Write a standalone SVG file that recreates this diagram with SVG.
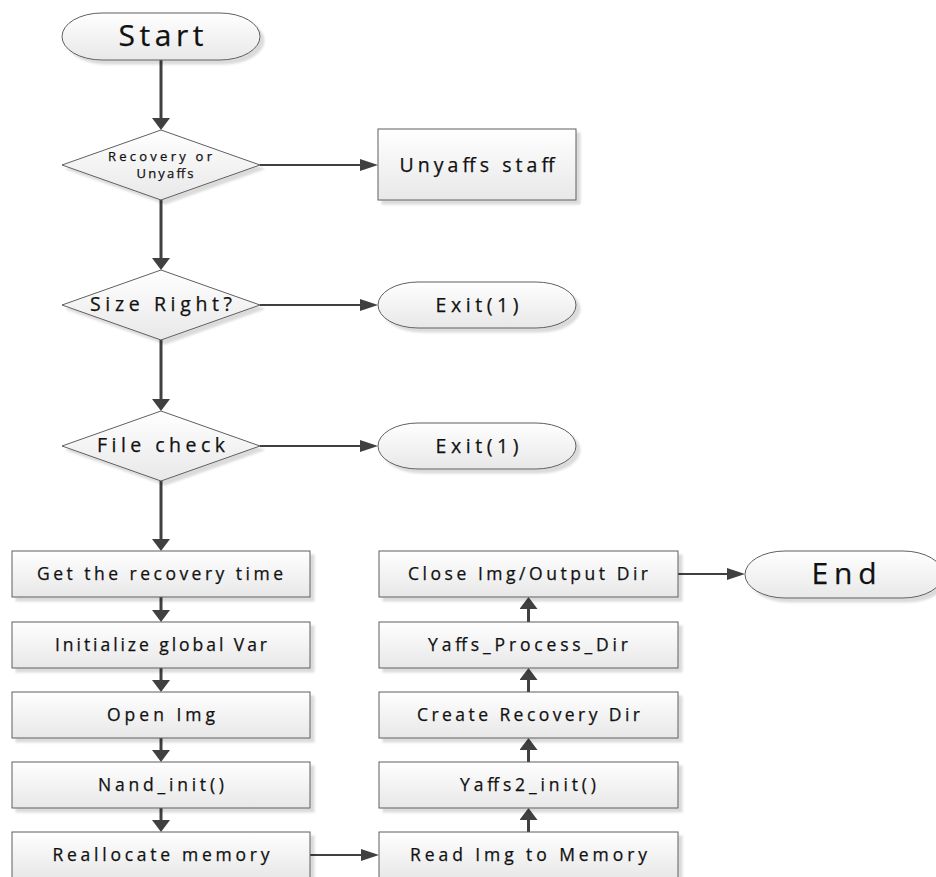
<svg xmlns="http://www.w3.org/2000/svg" width="936" height="877" viewBox="0 0 936 877">
  <defs>
    <linearGradient id="fillGrad" x1="0" y1="0" x2="0" y2="1">
      <stop offset="0" stop-color="#ffffff"/>
      <stop offset="1" stop-color="#e8e8e8"/>
    </linearGradient>
    <filter id="shadow" x="-10%" y="-10%" width="130%" height="140%">
      <feDropShadow dx="4" dy="4" stdDeviation="0.8" flood-color="#000" flood-opacity="0.14"/>
    </filter>
    <!-- heavy arrowhead for vertical flow lines -->
    <marker id="headV" markerUnits="userSpaceOnUse" markerWidth="12" markerHeight="18" refX="8" refY="9" orient="auto">
      <path d="M0,0 L12,9 L0,18 z" fill="#404040"/>
    </marker>
    <!-- slim arrowhead for horizontal branch lines -->
    <marker id="headH" markerUnits="userSpaceOnUse" markerWidth="18" markerHeight="12" refX="14" refY="6" orient="auto">
      <path d="M0,0 L18,6 L0,12 z" fill="#404040"/>
    </marker>
  </defs>
  <style>
    .shape { fill: url(#fillGrad); stroke: #5f5f5f; stroke-width: 1; filter: url(#shadow); }
    .lbl { font-family: "Open Sans", "Noto Sans", "DejaVu Sans", sans-serif; fill: #111; text-anchor: middle; stroke: #111; stroke-width: 0.25; }
    .big { font-size: 30px; }
    .mid { font-size: 19.5px; }
    .box { font-size: 17.5px; }
    .small { font-size: 13px; }
    .flow { fill: none; stroke: #404040; stroke-width: 3; marker-end: url(#headV); }
    .branch { fill: none; stroke: #404040; stroke-width: 1.8; marker-end: url(#headH); }
  </style>
  <rect width="936" height="877" fill="#ffffff"/>

  <g id="connectors">
    <path class="flow" d="M161,60 V126"/>
    <path class="branch" d="M260,165 H374"/>
    <path class="flow" d="M161,200 V266"/>
    <path class="branch" d="M260,305 H374"/>
    <path class="flow" d="M161,340 V407"/>
    <path class="branch" d="M260,446 H374"/>
    <path class="flow" d="M161,481 V547"/>
    <path class="flow" d="M161,597 V618"/>
    <path class="flow" d="M161,668 V688"/>
    <path class="flow" d="M161,738 V758"/>
    <path class="flow" d="M161,808 V828"/>
    <path class="branch" d="M310,855 H375"/>
    <path class="flow" d="M528.5,832 V812"/>
    <path class="flow" d="M528.5,762 V742"/>
    <path class="flow" d="M528.5,692 V672"/>
    <path class="flow" d="M528.5,622 V601"/>
    <path class="branch" d="M678,574 H741"/>
  </g>

  <g id="start">
    <rect class="shape" x="62" y="13" width="198" height="47" rx="40" ry="23.5"/>
    <text class="lbl big" x="161" y="46" textLength="85" lengthAdjust="spacing">Start</text>
  </g>

  <g id="decision-mode">
    <polygon class="shape" points="161,130 260,165 161,200 62,165"/>
    <text class="lbl small" x="160" y="160.5" textLength="104" lengthAdjust="spacing">Recovery or</text>
    <text class="lbl small" x="165" y="177.5" textLength="57" lengthAdjust="spacing">Unyaffs</text>
  </g>

  <g id="unyaffs-staff">
    <rect class="shape" x="378" y="129" width="198" height="71"/>
    <text class="lbl mid" x="477" y="172" textLength="155" lengthAdjust="spacing">Unyaffs staff</text>
  </g>

  <g id="decision-size">
    <polygon class="shape" points="161,270 260,305 161,340 62,305"/>
    <text class="lbl mid" x="161" y="311" textLength="142" lengthAdjust="spacing">Size Right?</text>
  </g>

  <g id="exit-size">
    <rect class="shape" x="378" y="282" width="198" height="46" rx="40" ry="23"/>
    <text class="lbl mid" x="477" y="312" textLength="83" lengthAdjust="spacing">Exit(1)</text>
  </g>

  <g id="decision-file">
    <polygon class="shape" points="161,411 260,446 161,481 62,446"/>
    <text class="lbl mid" x="161" y="452" textLength="128" lengthAdjust="spacing">File check</text>
  </g>

  <g id="exit-file">
    <rect class="shape" x="378" y="423" width="198" height="46" rx="40" ry="23"/>
    <text class="lbl mid" x="477" y="453" textLength="83" lengthAdjust="spacing">Exit(1)</text>
  </g>

  <g id="get-time">
    <rect class="shape" x="12" y="551" width="298" height="46"/>
    <text class="lbl box" x="160" y="580" textLength="246" lengthAdjust="spacing">Get the recovery time</text>
  </g>

  <g id="init-vars">
    <rect class="shape" x="12" y="622" width="298" height="46"/>
    <text class="lbl box" x="161" y="651" textLength="212" lengthAdjust="spacing">Initialize global Var</text>
  </g>

  <g id="open-img">
    <rect class="shape" x="12" y="692" width="298" height="46"/>
    <text class="lbl box" x="161" y="721" textLength="108" lengthAdjust="spacing">Open Img</text>
  </g>

  <g id="nand-init">
    <rect class="shape" x="12" y="762" width="298" height="46"/>
    <text class="lbl box" x="161" y="791" textLength="126" lengthAdjust="spacing">Nand_init()</text>
  </g>

  <g id="realloc">
    <rect class="shape" x="12" y="832" width="298" height="46"/>
    <text class="lbl box" x="161" y="861" textLength="217" lengthAdjust="spacing">Reallocate memory</text>
  </g>

  <g id="read-img">
    <rect class="shape" x="379" y="832" width="299" height="46"/>
    <text class="lbl box" x="528.5" y="861" textLength="237" lengthAdjust="spacing">Read Img to Memory</text>
  </g>

  <g id="yaffs2-init">
    <rect class="shape" x="379" y="762" width="299" height="46"/>
    <text class="lbl box" x="528" y="791" textLength="136" lengthAdjust="spacing">Yaffs2_init()</text>
  </g>

  <g id="create-dir">
    <rect class="shape" x="379" y="692" width="299" height="46"/>
    <text class="lbl box" x="528.5" y="721" textLength="223" lengthAdjust="spacing">Create Recovery Dir</text>
  </g>

  <g id="process-dir">
    <rect class="shape" x="379" y="622" width="299" height="46"/>
    <text class="lbl box" x="528" y="651" textLength="200" lengthAdjust="spacing">Yaffs_Process_Dir</text>
  </g>

  <g id="close-img">
    <rect class="shape" x="379" y="551" width="299" height="46"/>
    <text class="lbl box" x="528" y="580" textLength="240" lengthAdjust="spacing">Close Img/Output Dir</text>
  </g>

  <g id="end">
    <rect class="shape" x="745" y="551" width="198" height="47" rx="40" ry="23.5"/>
    <text class="lbl big" x="844" y="584" textLength="65" lengthAdjust="spacing">End</text>
  </g>
</svg>
